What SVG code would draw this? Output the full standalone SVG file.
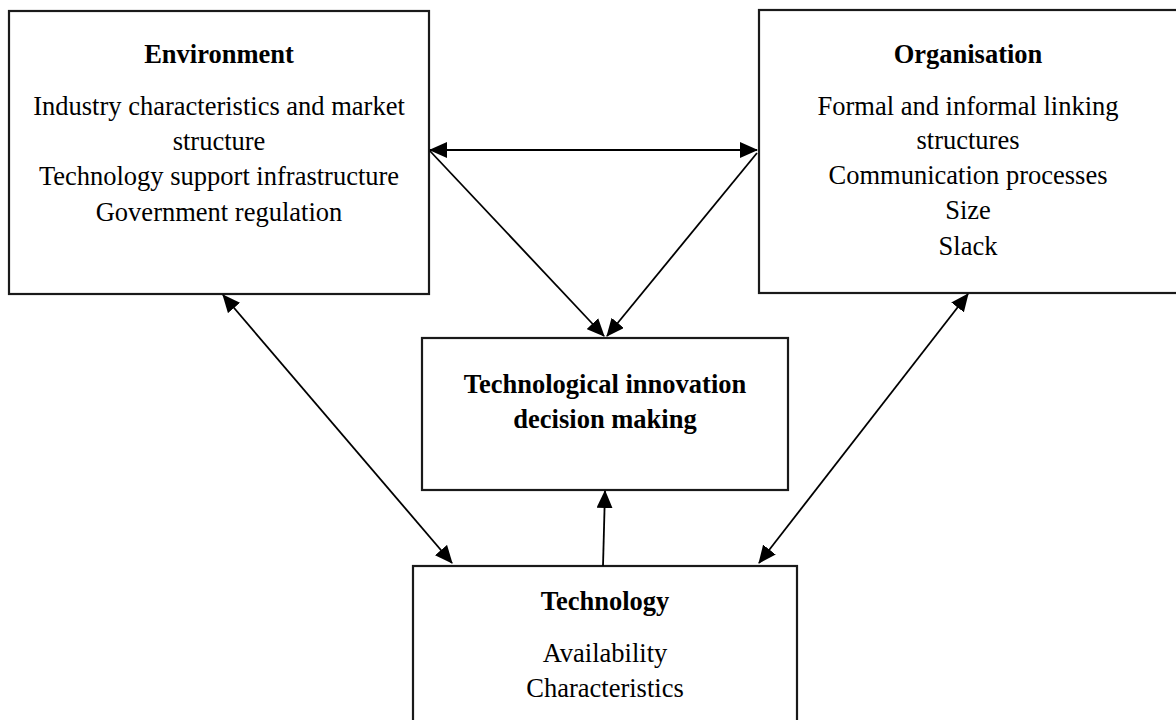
<svg xmlns="http://www.w3.org/2000/svg" width="1176" height="720" viewBox="0 0 1176 720">
  <style>
    .box { fill: #ffffff; stroke: #1a1a1a; stroke-width: 2.2; }
    .title { font-family: "Liberation Serif", "Times New Roman", serif; font-size: 26.5px; font-weight: bold; fill: #000; text-anchor: middle; }
    .body { font-family: "Liberation Serif", "Times New Roman", serif; font-size: 26.5px; fill: #000; text-anchor: middle; }
    .link { stroke: #000; stroke-width: 1.8; fill: none; }
  </style>
  <defs>
    <marker id="head" markerUnits="userSpaceOnUse" markerWidth="18" markerHeight="16" refX="17" refY="8" orient="auto-start-reverse">
      <path d="M0,0 L18,8 L0,16 Z" fill="#000"/>
    </marker>
  </defs>
  <rect width="1176" height="720" fill="#ffffff"/>

  <g id="environment">
    <rect class="box" x="9" y="11" width="420" height="283"/>
    <text class="title" x="219" y="63">Environment</text>
    <text class="body" x="219" y="115">Industry characteristics and market</text>
    <text class="body" x="219" y="150">structure</text>
    <text class="body" x="219" y="185">Technology support infrastructure</text>
    <text class="body" x="219" y="221">Government regulation</text>
  </g>

  <g id="organisation">
    <rect class="box" x="759" y="10" width="420" height="283"/>
    <text class="title" x="968" y="63">Organisation</text>
    <text class="body" x="968" y="115">Formal and informal linking</text>
    <text class="body" x="968" y="149">structures</text>
    <text class="body" x="968" y="184">Communication processes</text>
    <text class="body" x="968" y="219">Size</text>
    <text class="body" x="968" y="255">Slack</text>
  </g>

  <g id="decision">
    <rect class="box" x="422" y="338" width="366" height="152"/>
    <text class="title" x="605" y="393">Technological innovation</text>
    <text class="title" x="605" y="428">decision making</text>
  </g>

  <g id="technology">
    <rect class="box" x="413" y="566" width="384" height="170"/>
    <text class="title" x="605" y="610">Technology</text>
    <text class="body" x="605" y="662">Availability</text>
    <text class="body" x="605" y="697">Characteristics</text>
  </g>

  <g id="connectors">
    <line class="link" x1="430" y1="150" x2="757" y2="150" marker-start="url(#head)" marker-end="url(#head)"/>
    <line class="link" x1="430" y1="151" x2="604" y2="336" marker-end="url(#head)"/>
    <line class="link" x1="757" y1="153" x2="607" y2="336" marker-end="url(#head)"/>
    <line class="link" x1="223" y1="295" x2="452" y2="563" marker-start="url(#head)" marker-end="url(#head)"/>
    <line class="link" x1="968" y1="294" x2="759" y2="563" marker-start="url(#head)" marker-end="url(#head)"/>
    <line class="link" x1="603" y1="566" x2="605" y2="491" marker-end="url(#head)"/>
  </g>
</svg>
